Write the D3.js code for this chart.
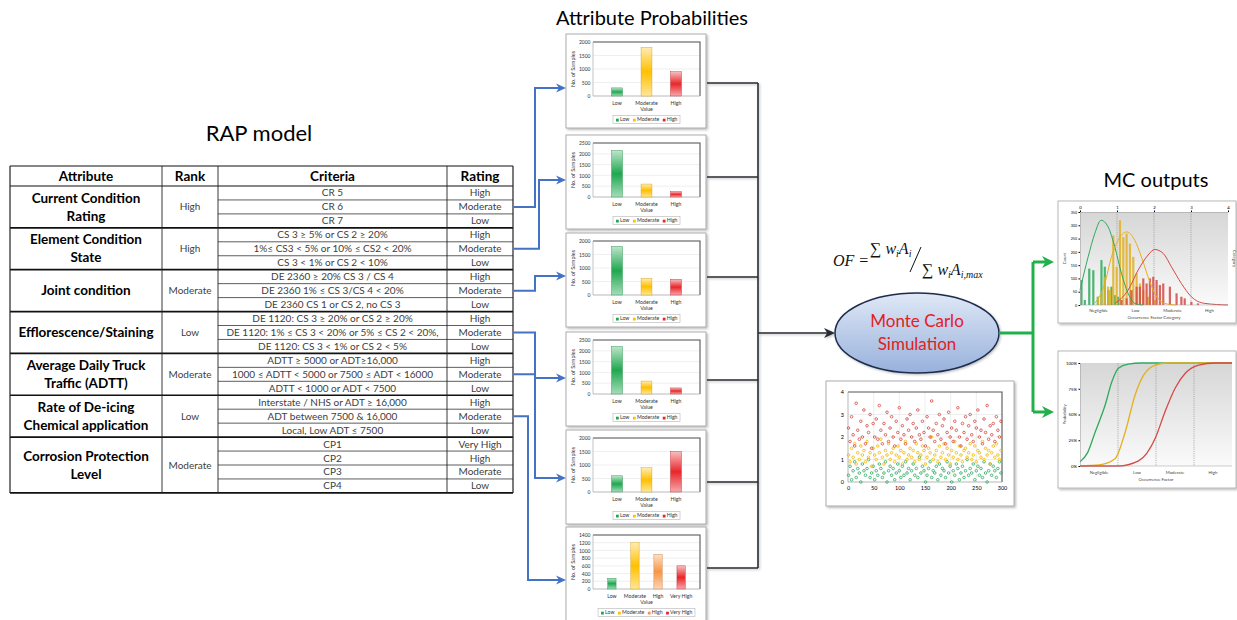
<!DOCTYPE html>
<html>
<head>
<meta charset="utf-8">
<script src="https://cdn.jsdelivr.net/npm/d3@7"></script>
<style>
body { margin: 0; background: #fff; }
svg { font-family: Lato, "Open Sans", sans-serif; }
</style>
</head>
<body>
<div id="fig"></div>
<script>
// ---- RAP table ----
var headerLabels = ["Attribute", "Rank", "Criteria", "Rating"];
var attrNames = [["Current Condition", "Rating"], ["Element Condition", "State"], ["Joint condition"],
    ["Efflorescence/Staining"], ["Average Daily Truck", "Traffic (ADTT)"], ["Rate of De-icing", "Chemical application"],
    ["Corrosion Protection", "Level"]];
var ranks = ["High", "High", "Moderate", "Low", "Moderate", "Low", "Moderate"];
var criteria = [
    ["CR 5", "CR 6", "CR 7"],
    ["CS 3 ≥ 5% or CS 2 ≥ 20%", "1%≤ CS3 < 5% or 10% ≤ CS2 < 20%", "CS 3 < 1% or CS 2 < 10%"],
    ["DE 2360 ≥ 20% CS 3 / CS 4", "DE 2360 1% ≤ CS 3/CS 4 < 20%", "DE 2360 CS 1 or CS 2, no CS 3"],
    ["DE 1120: CS 3 ≥ 20% or CS 2 ≥ 20%", "DE 1120: 1% ≤ CS 3 < 20% or 5% ≤ CS 2 < 20%,", "DE 1120: CS 3 < 1% or CS 2 < 5%"],
    ["ADTT ≥ 5000 or ADT≥16,000", "1000 ≤ ADTT < 5000 or 7500 ≤ ADT < 16000", "ADTT < 1000 or ADT < 7500"],
    ["Interstate / NHS or ADT ≥ 16,000", "ADT between 7500 & 16,000", "Local, Low ADT ≤ 7500"],
    ["CP1", "CP2", "CP3", "CP4"]
];
var ratings = [
    ["High", "Moderate", "Low"], ["High", "Moderate", "Low"], ["High", "Moderate", "Low"],
    ["High", "Moderate", "Low"], ["High", "Moderate", "Low"], ["High", "Moderate", "Low"],
    ["Very High", "High", "Moderate", "Low"]
];

// ---- attribute probability charts ----
var probCats = [
    ["Low", "Moderate", "High"], ["Low", "Moderate", "High"], ["Low", "Moderate", "High"],
    ["Low", "Moderate", "High"], ["Low", "Moderate", "High"], ["Low", "Moderate", "High", "Very High"]
];
var probValues = [[300, 1800, 900], [2150, 600, 250], [1800, 620, 580], [2200, 600, 280], [600, 900, 1500], [280, 1200, 900, 600]];
var probMax = [2000, 2500, 2000, 2500, 2000, 1400];
var probStep = [500, 500, 500, 500, 500, 200];

// ---- Monte Carlo scatter (objective factor per iteration, every 3rd iteration) ----
var iterStep = 3;
var ofLow = [0.3,0.7,0.1,0.5,0.9,0.2,0.6,0.4,0.0,0.8,0.5,0.3,0.6,1.0,0.2,0.4,0.7,0.1,0.5,0.3,
    0.8,0.6,0.2,0.4,0.9,0.0,0.5,0.7,0.3,0.6,0.1,0.4,0.8,0.5,0.2,0.7,0.3,0.9,0.4,0.6,
    0.1,0.5,0.8,0.3,0.6,0.2,1.1,0.4,0.7,0.5,0.0,0.3,0.6,0.9,0.2,0.5,0.4,0.7,0.1,0.8,
    0.3,0.6,0.5,0.2,0.9,0.4,0.7,0.0,0.5,0.3,0.8,0.6,0.1,0.4,0.7,0.2,0.5,1.0,0.3,0.6,
    0.4,0.8,0.1,0.5,0.7,0.3,0.6,0.2,0.9,0.4,0.0,0.5,0.8,0.3,0.7,0.5,0.2,0.6,0.9,0.4];
var ofMod = [1.2,0.9,1.5,1.1,1.7,0.8,1.3,1.0,1.6,1.2,1.4,0.9,1.8,1.1,1.3,0.7,1.5,1.2,1.0,1.6,
    1.3,1.9,1.1,0.8,1.4,1.2,1.7,1.0,1.3,1.5,0.9,1.2,1.6,1.1,1.4,0.8,1.3,1.8,1.0,1.2,
    1.5,1.1,1.4,0.9,1.7,1.3,1.0,1.2,1.6,1.4,0.8,1.1,1.5,1.3,2.0,1.0,1.2,1.4,0.9,1.6,
    1.1,1.3,1.7,1.0,1.5,1.2,0.8,1.4,1.1,1.8,1.3,1.0,1.6,1.2,0.9,1.4,1.5,1.1,1.3,1.7,
    1.0,1.2,1.6,0.9,1.4,1.3,1.1,1.8,1.0,1.5,1.2,1.4,0.8,1.3,1.6,1.1,1.7,1.2,1.0,1.4];
var ofHigh = [2.4,1.8,2.9,2.1,1.6,3.5,2.3,1.9,2.7,2.0,3.2,1.7,2.5,2.2,3.0,1.5,2.6,2.0,2.8,1.9,
    3.4,2.3,1.7,2.6,2.1,3.1,1.8,2.4,2.9,2.0,1.6,2.7,2.2,3.3,1.9,2.5,2.1,1.7,2.8,2.3,
    3.0,2.0,2.6,1.8,2.4,3.2,2.1,1.9,2.7,2.2,1.6,2.9,2.4,2.0,3.6,2.3,1.8,2.6,2.1,3.0,
    1.9,2.5,2.8,1.7,2.2,3.1,2.0,2.4,1.8,2.7,2.3,3.3,2.0,1.6,2.6,2.2,2.9,1.9,2.5,3.0,
    2.1,1.8,2.7,2.4,3.2,2.0,2.3,1.7,2.8,2.2,3.4,1.9,2.5,2.1,2.6,1.8,2.9,2.3,2.0,2.7];

// ---- MC outputs: histogram bins [OF, count] and fitted curves ----
var histLow = [[0.04,94],[0.13,19],[0.25,137],[0.36,131],[0.48,31],[0.58,169],[0.67,144],[0.76,56],[0.85,69],[0.94,37],[1.03,31]];
var histMod = [[0.49,31],[0.58,44],[0.67,106],[0.76,69],[0.81,56],[0.90,262],[0.99,144],[1.08,319],[1.17,256],[1.26,269],
    [1.35,231],[1.44,181],[1.53,119],[1.62,81],[1.71,56],[1.84,31],[2.02,19]];
var histHigh = [[1.12,19],[1.26,25],[1.39,56],[1.53,69],[1.62,69],[1.71,100],[1.80,81],[1.89,100],[1.98,106],[2.07,94],
    [2.16,75],[2.25,81],[2.43,69],[2.61,44],[2.74,31],[2.83,25],[3.01,12],[3.19,6]];
var fitLow = [[0,56],[0.22,181],[0.4,269],[0.57,319],[0.76,294],[0.94,219],[1.12,119],[1.3,44],[1.48,6],[1.7,0]];
var fitMod = [[0.4,6],[0.67,81],[0.85,181],[1.03,244],[1.26,275],[1.48,244],[1.66,181],[1.84,106],[2.02,44],[2.29,6],[2.6,0]];
var fitHigh = [[0.94,6],[1.3,56],[1.57,131],[1.84,188],[2.02,209],[2.25,194],[2.47,144],[2.74,81],[3.01,31],[3.37,6],[4,0]];
var cdfLow = [[0,0.04],[0.2,0.13],[0.4,0.33],[0.66,0.59],[0.84,0.82],[1.01,0.95],[1.27,0.99],[1.6,1],[4,1]];
var cdfMod = [[0,0],[0.5,0.01],[0.92,0.07],[1.19,0.33],[1.45,0.69],[1.67,0.88],[1.98,0.98],[2.3,1],[4,1]];
var cdfHigh = [[0,0],[1.0,0],[1.54,0.05],[1.98,0.27],[2.24,0.53],[2.51,0.76],[2.77,0.9],[3.12,0.98],[3.56,1],[4,1]];
var ofCategories = ["Negligible", "Low", "Moderate", "High"];

var GREEN = "#1fa84f", YELLOW = "#ffc000", ORANGE = "#f79646", RED = "#e8262b";

var svg = d3.select("#fig").append("svg").attr("width", 1237).attr("height", 620);
var defs = svg.append("defs");

// right-pointing arrow head with its tip at (x, y)
function arrowHead(parent, x, y, color, len, half) {
    parent.append("path")
        .attr("d", "M" + x + "," + y + "L" + (x - len) + "," + (y - half) + "L" + (x - len * 0.7) + "," + y + "L" + (x - len) + "," + (y + half) + "Z")
        .attr("fill", color);
}

var sh = defs.append("filter").attr("id", "shadow").attr("x", "-10%").attr("y", "-10%").attr("width", "130%").attr("height", "130%");
sh.append("feDropShadow").attr("dx", 1.5).attr("dy", 1.5).attr("stdDeviation", 1.2).attr("flood-color", "#000").attr("flood-opacity", 0.28);
var lsh = defs.append("filter").attr("id", "lshadow").attr("x", "-10%").attr("y", "-10%").attr("width", "130%").attr("height", "130%");
lsh.append("feDropShadow").attr("dx", 1.2).attr("dy", 1.2).attr("stdDeviation", 0.8).attr("flood-color", "#000").attr("flood-opacity", 0.25);

function barGrad(id, color) {
    var c = d3.color(color);
    var gr = defs.append("linearGradient").attr("id", id).attr("x1", 0).attr("y1", 0).attr("x2", 0).attr("y2", 1);
    gr.append("stop").attr("offset", "0%").attr("stop-color", d3.interpolateRgb("#fff", c)(0.3));
    gr.append("stop").attr("offset", "50%").attr("stop-color", c.formatHex());
    gr.append("stop").attr("offset", "100%").attr("stop-color", d3.interpolateRgb("#fff", c)(0.4));
}
[GREEN, YELLOW, ORANGE, RED].forEach(function (c, i) { barGrad("bg" + i, c); });
function gradId(c) { return "url(#bg" + [GREEN, YELLOW, ORANGE, RED].indexOf(c) + ")"; }

// ---------------- titles ----------------
svg.append("text").attr("x", 652).attr("y", 25).attr("text-anchor", "middle").attr("font-size", 20).text("Attribute Probabilities");
svg.append("text").attr("x", 259).attr("y", 141).attr("text-anchor", "middle").attr("font-size", 22).text("RAP model");
svg.append("text").attr("x", 1156).attr("y", 187).attr("text-anchor", "middle").attr("font-size", 20).text("MC outputs");

// ---------------- table ----------------
var colX = [10, 162, 218, 447, 513];
var headTop = 166, bodyTop = 186, rowH = 13.95;
var nRows = d3.sum(ratings, function (d) { return d.length; });
var rowY = d3.scaleLinear().domain([0, nRows]).range([bodyTop, bodyTop + nRows * rowH]);
var tbl = svg.append("g");
var starts = [];
ratings.reduce(function (acc, d) { starts.push(acc); return acc + d.length; }, 0);

headerLabels.forEach(function (h, i) {
    tbl.append("text").attr("x", (colX[i] + colX[i + 1]) / 2).attr("y", 181).attr("text-anchor", "middle")
        .attr("font-size", 13.5).attr("font-weight", "bold").text(h);
});

ratings.forEach(function (rs, gi) {
    var s = starts[gi], n = rs.length;
    var mid = rowY(s + n / 2);
    var names = attrNames[gi];
    names.forEach(function (t, k) {
        tbl.append("text").attr("x", (colX[0] + colX[1]) / 2).attr("y", mid + 4.7 + (k - (names.length - 1) / 2) * 18)
            .attr("text-anchor", "middle").attr("font-size", 13.5).attr("font-weight", "bold").text(t);
    });
    tbl.append("text").attr("x", (colX[1] + colX[2]) / 2).attr("y", mid + 3.5).attr("text-anchor", "middle")
        .attr("font-size", 10).attr("fill", "#404040").text(ranks[gi]);
    rs.forEach(function (r, k) {
        var cy = rowY(s + k + 0.5);
        tbl.append("text").attr("x", (colX[2] + colX[3]) / 2).attr("y", cy + 3.5).attr("text-anchor", "middle")
            .attr("font-size", 10).attr("fill", "#404040").text(criteria[gi][k]);
        tbl.append("text").attr("x", (colX[3] + colX[4]) / 2).attr("y", cy + 3.5).attr("text-anchor", "middle")
            .attr("font-size", 10).attr("fill", "#404040").text(r);
        if (k > 0) {
            tbl.append("line").attr("x1", colX[2]).attr("x2", colX[4]).attr("y1", rowY(s + k)).attr("y2", rowY(s + k))
                .attr("stroke", "#333").attr("stroke-width", 0.8);
        }
    });
    tbl.append("line").attr("x1", colX[0]).attr("x2", colX[4]).attr("y1", rowY(s)).attr("y2", rowY(s))
        .attr("stroke", "#111").attr("stroke-width", gi === 0 ? 1.2 : 1.7);
});
tbl.append("line").attr("x1", colX[0]).attr("x2", colX[4]).attr("y1", headTop).attr("y2", headTop).attr("stroke", "#111").attr("stroke-width", 1.2);
tbl.append("line").attr("x1", colX[0]).attr("x2", colX[4]).attr("y1", rowY(nRows)).attr("y2", rowY(nRows)).attr("stroke", "#111").attr("stroke-width", 1.7);
colX.forEach(function (x, i) {
    tbl.append("line").attr("x1", x).attr("x2", x).attr("y1", headTop).attr("y2", rowY(nRows))
        .attr("stroke", "#222").attr("stroke-width", (i === 0 || i === 4) ? 1.2 : 0.9);
});

// ---------------- attribute probability charts ----------------
var chartLeft = 566, chartW = 140, chartH = 94;
var chartTops = [34, 135, 233, 332, 430, 527];
var chartColors = [[GREEN, YELLOW, RED], [GREEN, YELLOW, RED], [GREEN, YELLOW, RED], [GREEN, YELLOW, RED], [GREEN, YELLOW, RED], [GREEN, YELLOW, ORANGE, RED]];

function probChart(i) {
    var g = svg.append("g").attr("transform", "translate(" + chartLeft + "," + chartTops[i] + ")");
    g.append("rect").attr("width", chartW).attr("height", chartH).attr("fill", "#fff")
        .attr("stroke", "#9a9a9a").attr("stroke-width", 0.8).attr("filter", "url(#shadow)");
    var cats = probCats[i], vals = probValues[i], cols = chartColors[i];
    var px0 = 27, px1 = 134, py0 = 8, py1 = 62;
    var y = d3.scaleLinear().domain([0, probMax[i]]).range([py1, py0]);
    var x = d3.scaleBand().domain(cats).range([px0, px1]).padding(cats.length > 3 ? 0.64 : 0.63);
    var ticks = d3.range(0, probMax[i] + 1, probStep[i]);
    g.selectAll(".grid").data(ticks).enter().append("line")
        .attr("x1", px0).attr("x2", px1).attr("y1", function (d) { return y(d); }).attr("y2", function (d) { return y(d); })
        .attr("stroke", "#e4e4e4").attr("stroke-width", 0.6);
    g.append("path").attr("d", "M" + px0 + "," + py0 + "H" + px1 + "V" + py1)
        .attr("fill", "none").attr("stroke", "#555").attr("stroke-width", 1.1);
    g.append("path").attr("d", "M" + px0 + "," + py0 + "V" + py1 + "H" + px1)
        .attr("fill", "none").attr("stroke", "#aaa").attr("stroke-width", 0.7);
    var ya = g.append("g").attr("transform", "translate(" + px0 + ",0)")
        .call(d3.axisLeft(y).tickValues(ticks).tickSize(0).tickPadding(2.5).tickFormat(d3.format("d")));
    ya.select(".domain").remove();
    ya.attr("font-family", "Lato, sans-serif").attr("font-size", 5);
    ya.selectAll("text").attr("fill", "#333");
    g.selectAll(".bar").data(vals).enter().append("rect")
        .attr("x", function (d, j) { return x(cats[j]); }).attr("width", x.bandwidth())
        .attr("y", function (d) { return y(d); }).attr("height", function (d) { return y(0) - y(d); })
        .attr("fill", function (d, j) { return gradId(cols[j]); })
        .attr("stroke", function (d, j) { return d3.color(cols[j]).darker(0.6); }).attr("stroke-width", 0.4);
    g.selectAll(".cl").data(cats).enter().append("text")
        .attr("x", function (d) { return x(d) + x.bandwidth() / 2; }).attr("y", 71)
        .attr("text-anchor", "middle").attr("font-size", 5.2).attr("fill", "#333").text(function (d) { return d; });
    g.append("text").attr("x", (px0 + px1) / 2).attr("y", 77).attr("text-anchor", "middle").attr("font-size", 5.2).attr("fill", "#333").text("Value");
    g.append("text").attr("transform", "translate(9," + ((py0 + py1) / 2) + ") rotate(-90)")
        .attr("text-anchor", "middle").attr("font-size", 5.5).attr("fill", "#333").text("No. of Samples");
    // legend
    var lg = g.append("g");
    var lx = 0;
    cats.forEach(function (c, j) {
        var it = lg.append("g").attr("transform", "translate(" + lx + ",0)");
        it.append("rect").attr("x", 0).attr("y", -2.6).attr("width", 2.8).attr("height", 2.8).attr("fill", cols[j]);
        var t = it.append("text").attr("x", 4).attr("y", 0).attr("font-size", 5.2).attr("fill", "#333").text(c);
        lx += 4 + t.node().getComputedTextLength() + 3.5;
    });
    var lw = lx + 2;
    var lxs = (px0 + px1) / 2 - lw / 2;
    lg.attr("transform", "translate(" + (lxs + 3) + ",87.3)");
    g.insert("rect", function () { return lg.node(); }).attr("x", lxs).attr("y", 81.5).attr("width", lw).attr("height", 8)
        .attr("fill", "#fff").attr("stroke", "#b5b5b5").attr("stroke-width", 0.6);
}
probCats.forEach(function (d, i) { probChart(i); });

// blue connectors from table to charts
var blueTargetY = [88, 180, 276, 378, 478, 580];
var blueVX = [535, 539, 535, 535, 535, 528];
var blue = svg.append("g");
ratings.forEach(function (rs, gi) {
    var sy = rowY(starts[gi] + rs.indexOf("Moderate") + 0.5);
    blue.append("path").attr("d", "M514," + sy + "H" + blueVX[gi] + "V" + blueTargetY[gi] + "H560")
        .attr("fill", "none").attr("stroke", "#4472c4").attr("stroke-width", 2);
    arrowHead(blue, 566, blueTargetY[gi], "#4472c4", 10, 4.5);
});

// black connectors to Monte Carlo
var joinY = [83, 177, 277, 380, 482, 568];
var joinX = 758, mcY = 333;
var conn = svg.append("g").attr("filter", "url(#lshadow)");
joinY.forEach(function (yy) {
    conn.append("line").attr("x1", chartLeft + chartW + 1).attr("x2", joinX).attr("y1", yy).attr("y2", yy)
        .attr("stroke", "#262b33").attr("stroke-width", 1.6);
});
conn.append("line").attr("x1", joinX).attr("x2", joinX).attr("y1", joinY[0]).attr("y2", joinY[joinY.length - 1])
    .attr("stroke", "#262b33").attr("stroke-width", 1.6);
conn.append("line").attr("x1", joinX).attr("x2", 828).attr("y1", mcY).attr("y2", mcY)
    .attr("stroke", "#262b33").attr("stroke-width", 1.6);
arrowHead(conn, 835, mcY, "#262b33", 11, 5);

// ---------------- formula ----------------
var fm = svg.append("g").attr("font-family", "'Liberation Serif', 'DejaVu Serif', serif").attr("font-style", "italic").attr("fill", "#111");
fm.append("text").attr("x", 833).attr("y", 266).attr("font-size", 16).text("OF =");
var num = fm.append("text").attr("x", 870).attr("y", 254).attr("font-size", 16);
num.append("tspan").attr("font-style", "normal").text("∑ ");
num.append("tspan").text("w");
num.append("tspan").attr("font-size", 10).attr("dy", 3).text("i");
num.append("tspan").attr("dy", -3).text("A");
num.append("tspan").attr("font-size", 10).attr("dy", 3).text("i");
fm.append("line").attr("x1", 921).attr("y1", 247).attr("x2", 910).attr("y2", 272).attr("stroke", "#111").attr("stroke-width", 1);
var den = fm.append("text").attr("x", 922).attr("y", 275).attr("font-size", 16);
den.append("tspan").attr("font-style", "normal").text("∑ ");
den.append("tspan").text("w");
den.append("tspan").attr("font-size", 10).attr("dy", 3).text("i");
den.append("tspan").attr("dy", -3).text("A");
den.append("tspan").attr("font-size", 10).attr("dy", 3).text("i,max");

// ---------------- Monte Carlo ellipse ----------------
var eg = defs.append("linearGradient").attr("id", "ellG").attr("x1", 0).attr("y1", 0).attr("x2", 0).attr("y2", 1);
eg.append("stop").attr("offset", "0%").attr("stop-color", "#dfe8f6");
eg.append("stop").attr("offset", "100%").attr("stop-color", "#98b1dc");
svg.append("ellipse").attr("cx", 917).attr("cy", mcY).attr("rx", 82).attr("ry", 40)
    .attr("fill", "url(#ellG)").attr("stroke", "#1f2d4d").attr("stroke-width", 1.5).attr("filter", "url(#lshadow)");
svg.append("text").attr("x", 917).attr("y", 327).attr("text-anchor", "middle").attr("font-size", 17).attr("fill", "#e3201b").text("Monte Carlo");
svg.append("text").attr("x", 917).attr("y", 350).attr("text-anchor", "middle").attr("font-size", 17).attr("fill", "#e3201b").text("Simulation");

// green connectors
var gx = 1033;
var green = svg.append("g");
green.append("line").attr("x1", 999).attr("x2", gx).attr("y1", mcY).attr("y2", mcY).attr("stroke", "#22b04a").attr("stroke-width", 3);
green.append("line").attr("x1", gx).attr("x2", gx).attr("y1", 262).attr("y2", 412).attr("stroke", "#22b04a").attr("stroke-width", 3);
[262, 412].forEach(function (yy) {
    green.append("line").attr("x1", gx).attr("x2", 1046).attr("y1", yy).attr("y2", yy)
        .attr("stroke", "#22b04a").attr("stroke-width", 3);
    arrowHead(green, 1054, yy, "#22b04a", 12, 6);
});

// ---------------- scatter of simulated OF ----------------
(function () {
    var g = svg.append("g");
    g.append("rect").attr("x", 826).attr("y", 381).attr("width", 188).attr("height", 125).attr("fill", "#fff")
        .attr("stroke", "#9a9a9a").attr("stroke-width", 0.8).attr("filter", "url(#shadow)");
    var x = d3.scaleLinear().domain([0, 300]).range([848, 1002]);
    var y = d3.scaleLinear().domain([0, 4]).range([482, 392]);
    g.selectAll(".vg").data(d3.range(50, 300, 50)).enter().append("line")
        .attr("x1", function (d) { return x(d); }).attr("x2", function (d) { return x(d); }).attr("y1", 392).attr("y2", 482)
        .attr("stroke", "#e2e2e2").attr("stroke-width", 0.6);
    g.selectAll(".hg").data([1, 2, 3]).enter().append("line")
        .attr("y1", function (d) { return y(d); }).attr("y2", function (d) { return y(d); }).attr("x1", 848).attr("x2", 1002)
        .attr("stroke", "#e2e2e2").attr("stroke-width", 0.6);
    g.append("path").attr("d", "M848,392H1002V482").attr("fill", "none").attr("stroke", "#555").attr("stroke-width", 1.1);
    g.append("path").attr("d", "M848,392V482H1002").attr("fill", "none").attr("stroke", "#999").attr("stroke-width", 0.7);
    var xa = g.append("g").attr("transform", "translate(0,482)").call(d3.axisBottom(x).tickValues(d3.range(0, 301, 50)).tickSize(0).tickPadding(4));
    xa.select(".domain").remove();
    xa.attr("font-family", "Lato, sans-serif").attr("font-size", 5.5);
    var ya = g.append("g").attr("transform", "translate(848,0)").call(d3.axisLeft(y).ticks(4).tickSize(0).tickPadding(4));
    ya.select(".domain").remove();
    ya.attr("font-family", "Lato, sans-serif").attr("font-size", 5.5);
    [[ofLow, "#2faa62"], [ofMod, "#f2b600"], [ofHigh, "#d2473f"]].forEach(function (s) {
        g.selectAll(null).data(s[0]).enter().append("circle")
            .attr("cx", function (d, i) { return x(i * iterStep + 1); }).attr("cy", function (d) { return y(d); })
            .attr("r", 1.3).attr("fill", "none").attr("stroke", s[1]).attr("stroke-width", 0.8);
    });
})();

// ---------------- MC histogram ----------------
var bgG = defs.append("linearGradient").attr("id", "plotBg").attr("x1", 0).attr("y1", 0).attr("x2", 0).attr("y2", 1);
bgG.append("stop").attr("offset", "0%").attr("stop-color", "#d6d6d6");
bgG.append("stop").attr("offset", "100%").attr("stop-color", "#fafafa");
var mcCols = ["#2eaa5c", "#e2b023", "#d54a45"];

function mcFrame(top, h, px0, px1, py0, py1) {
    var g = svg.append("g");
    g.append("rect").attr("x", 1058).attr("y", top).attr("width", 178).attr("height", h).attr("fill", "#fff")
        .attr("stroke", "#a8a8a8").attr("stroke-width", 0.8).attr("filter", "url(#shadow)");
    g.append("rect").attr("x", px0).attr("y", py0).attr("width", px1 - px0).attr("height", py1 - py0).attr("fill", "url(#plotBg)");
    return g;
}

(function () {
    var px0 = 1080, px1 = 1228, py0 = 212, py1 = 305;
    var g = mcFrame(201, 122, px0, px1, py0, py1);
    var x = d3.scaleLinear().domain([0, 4]).range([px0, px1]);
    var y = d3.scaleLinear().domain([0, 350]).range([py1, py0]);
    g.selectAll(".dl").data([1, 2, 3]).enter().append("line")
        .attr("x1", function (d) { return x(d); }).attr("x2", function (d) { return x(d); }).attr("y1", py0).attr("y2", py1)
        .attr("stroke", "#8a8a8a").attr("stroke-width", 0.6).attr("stroke-dasharray", "1.2,1");
    [[histLow, mcCols[0]], [histMod, mcCols[1]], [histHigh, mcCols[2]]].forEach(function (s) {
        g.selectAll(null).data(s[0]).enter().append("rect")
            .attr("x", function (d) { return x(d[0]) - 1.1; }).attr("width", 2.2)
            .attr("y", function (d) { return y(d[1]); }).attr("height", function (d) { return py1 - y(d[1]); })
            .attr("fill", s[1]).attr("opacity", 0.85);
    });
    var line = d3.line().x(function (d) { return x(d[0]); }).y(function (d) { return y(d[1]); }).curve(d3.curveMonotoneX);
    [[fitLow, mcCols[0]], [fitMod, mcCols[1]], [fitHigh, mcCols[2]]].forEach(function (s) {
        g.append("path").attr("d", line(s[0])).attr("fill", "none").attr("stroke", s[1]).attr("stroke-width", 1);
    });
    g.append("line").attr("x1", px0).attr("x2", px1).attr("y1", py1).attr("y2", py1).attr("stroke", "#999").attr("stroke-width", 0.5);
    var xa = g.append("g").attr("transform", "translate(0," + py0 + ")").call(d3.axisTop(x).ticks(4).tickSize(1.5).tickPadding(1.5));
    xa.select(".domain").attr("stroke", "#999").attr("stroke-width", 0.5);
    xa.attr("font-family", "Lato, sans-serif").attr("font-size", 4.3);
    var ya = g.append("g").attr("transform", "translate(" + px0 + ",0)").call(d3.axisLeft(y).tickValues(d3.range(0, 351, 50)).tickSize(1.5).tickPadding(1.5));
    ya.select(".domain").attr("stroke", "#999").attr("stroke-width", 0.5);
    ya.attr("font-family", "Lato, sans-serif").attr("font-size", 3.6);
    g.selectAll(".cat").data(ofCategories).enter().append("text")
        .attr("x", function (d, i) { return x(i + 0.5); }).attr("y", 312).attr("text-anchor", "middle")
        .attr("font-size", 4.3).attr("fill", "#444").text(function (d) { return d; });
    g.append("text").attr("x", (px0 + px1) / 2).attr("y", 318.5).attr("text-anchor", "middle").attr("font-size", 4.3).attr("fill", "#444").text("Occurrence Factor Category");
    g.append("text").attr("transform", "translate(1066," + ((py0 + py1) / 2) + ") rotate(-90)").attr("text-anchor", "middle").attr("font-size", 4.3).attr("fill", "#444").text("Count");
    g.append("text").attr("transform", "translate(1233," + ((py0 + py1) / 2) + ") rotate(90)").attr("text-anchor", "middle").attr("font-size", 4.3).attr("fill", "#444").text("Category");
})();

// ---------------- MC cumulative ----------------
(function () {
    var px0 = 1080, px1 = 1232, py0 = 363, py1 = 466;
    var g = mcFrame(351, 137, px0, px1, py0, py1);
    var x = d3.scaleLinear().domain([0, 4]).range([px0, px1]);
    var y = d3.scaleLinear().domain([0, 1]).range([py1, py0]);
    g.selectAll(".dl").data([1, 2, 3]).enter().append("line")
        .attr("x1", function (d) { return x(d); }).attr("x2", function (d) { return x(d); }).attr("y1", py0).attr("y2", py1)
        .attr("stroke", "#8a8a8a").attr("stroke-width", 0.6).attr("stroke-dasharray", "1.2,1");
    var line = d3.line().x(function (d) { return x(d[0]); }).y(function (d) { return y(d[1]); }).curve(d3.curveMonotoneX);
    [[cdfLow, mcCols[0]], [cdfMod, mcCols[1]], [cdfHigh, mcCols[2]]].forEach(function (s) {
        g.append("path").attr("d", line(s[0])).attr("fill", "none").attr("stroke", s[1]).attr("stroke-width", 1.3);
    });
    g.append("line").attr("x1", px0).attr("x2", px1).attr("y1", py1).attr("y2", py1).attr("stroke", "#999").attr("stroke-width", 0.5);
    var ya = g.append("g").attr("transform", "translate(" + px0 + ",0)")
        .call(d3.axisLeft(y).tickValues([0, 0.25, 0.5, 0.75, 1]).tickFormat(d3.format(".0%")).tickSize(1.5).tickPadding(1.5));
    ya.select(".domain").attr("stroke", "#999").attr("stroke-width", 0.5);
    ya.attr("font-family", "Lato, sans-serif").attr("font-size", 4.3);
    g.selectAll(".cat").data(ofCategories).enter().append("text")
        .attr("x", function (d, i) { return x(i + 0.5); }).attr("y", 474).attr("text-anchor", "middle")
        .attr("font-size", 4.3).attr("fill", "#444").text(function (d) { return d; });
    g.append("text").attr("x", (px0 + px1) / 2).attr("y", 481).attr("text-anchor", "middle").attr("font-size", 4.3).attr("fill", "#444").text("Occurrence Factor");
    g.append("text").attr("transform", "translate(1066," + ((py0 + py1) / 2) + ") rotate(-90)").attr("text-anchor", "middle").attr("font-size", 4.3).attr("fill", "#444").text("Probability");
})();
</script>
</body>
</html>
